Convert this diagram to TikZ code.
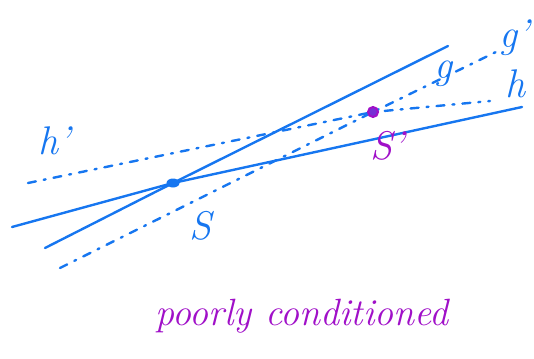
\documentclass[tikz,border=0pt]{standalone}
\usepackage{fontspec}
\usepackage{tikz}
\usetikzlibrary{shapes.geometric, positioning}
\definecolor{penblue}{RGB}{22,118,240}
\definecolor{penpurple}{RGB}{160,16,200}
\tikzset{
  pen/.style={line width=2.4pt, color=penblue, line cap=round},
  guess/.style={pen, dash pattern=on 8pt off 8pt on 2pt off 8pt},
  sdot/.style={ellipse, fill=penblue, inner sep=0pt,
    minimum width=13pt, minimum height=9pt},
  spdot/.style={circle, draw=penpurple, fill=penpurple!70!penblue,
    line width=2pt, inner sep=0pt, minimum size=10pt},
  lbl/.style={text=penblue, inner sep=0pt, font=\fontsize{40}{40}\selectfont\itshape},
  plbl/.style={lbl, text=penpurple}
}
\begin{document}
\begin{tikzpicture}[x=1pt, y=-1pt]
  \useasboundingbox (0,0) rectangle (534,358);
  % points
  \coordinate (S) at (173,183);
  \coordinate (Sp) at (373,112);
  % solid lines g and h
  \coordinate (gL) at (45,248);
  \coordinate (gR) at (448,46);
  \coordinate (hL) at (12,227);
  \coordinate (hR) at (522,107);
  \draw[pen] (gL) -- (S) -- (gR);
  \draw[pen] (hL) -- (S) -- (hR);
  % perturbed lines g' and h'
  \coordinate (gpL) at (60,268);
  \coordinate (gpR) at (498,51);
  \coordinate (hpL) at (28,183);
  \coordinate (hpR) at (490,101);
  \draw[guess] (gpL) -- (Sp) -- (gpR);
  \draw[guess] (hpL) -- (Sp) -- (hpR);
  % dots
  \node[sdot] (Sdot) at (S) {};
  \node[spdot] (Spdot) at (Sp) {};
  % labels
  \node[lbl] (labS) at (200,226) {S};
  \node[plbl] (labSp) at (387,146) {S'};
  \node[lbl] (labg) at (443,74) {g};
  \node[lbl] (labgp) at (514,38) {g'};
  \node[lbl] (labh) at (515,84) {h};
  \node[lbl] (labhp) at (54,141) {h'};
  \node[plbl, font=\fontsize{38}{38}\selectfont\itshape] (caption) at (302,316) {poorly conditioned};
\end{tikzpicture}
\end{document}
